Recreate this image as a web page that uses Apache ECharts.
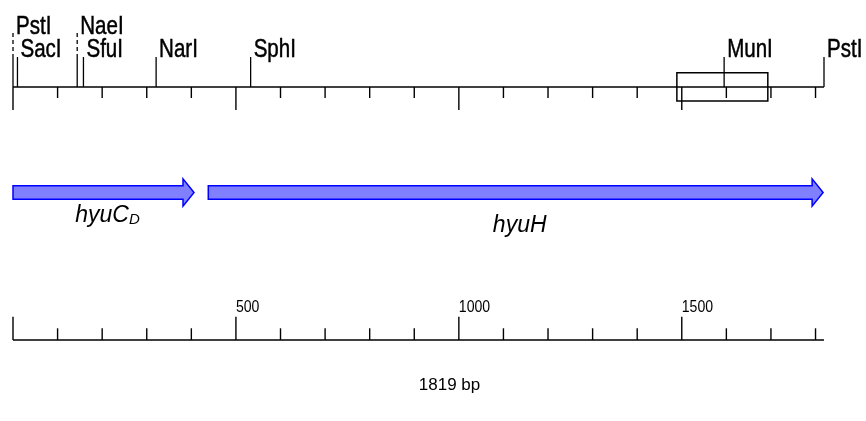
<!DOCTYPE html>
<html>
<head>
<meta charset="utf-8">
<script src="https://cdn.jsdelivr.net/npm/echarts@6/dist/echarts.min.js"></script>
<style>
  html, body { margin: 0; padding: 0; background: #fff; }
  #map { width: 866px; height: 421px; }
</style>
</head>
<body>
<div id="map"></div>
<script>
// Insert map: restriction sites over a bp ruler, the two coding genes, and a scale bar.

const sequenceLength = 1819;
const totalLabel = '1819 bp';

// Ruler ticks (bp)
const tickPositions = [0, 100, 200, 300, 400, 500, 600, 700, 800, 900, 1000,
                       1100, 1200, 1300, 1400, 1500, 1600, 1700, 1800];
const majorTickPositions = [0, 500, 1000, 1500];
const scaleLabelPositions = [500, 1000, 1500];
const scaleLabels = ['500', '1000', '1500'];

// Restriction sites
const siteNames = ['PstI', 'SacI', 'NaeI', 'SfuI', 'NarI', 'SphI', 'MunI', 'PstI'];
const sitePositions = [0, 10, 144, 158, 321, 533, 1595, 1819];
const siteRows = [0, 1, 0, 1, 1, 1, 1, 1];

// Genes
const geneNames = ['hyuC', 'hyuH'];
const geneSubscripts = ['D', ''];
const geneStarts = [0, 438];
const geneEnds = [406, 1817];

// Boxed region on the ruler (bp)
const boxedRegion = [1489, 1693];

// ---- drawing layout (pixel rows) ----
const L = {
  topRulerY: 87, minorTick: 11, majorTick: 23,
  siteLabelBaseline: [36, 59], siteLineTop: [33, 57], siteLabelGap: 3,
  labelFont: 26, labelScaleX: 0.79,
  boxTop: 72.7, boxBottom: 101,
  geneY: 192.5, bodyHalf: 6.8, headHalf: 13.7, headLength: 11,
  geneLabelBaseline: [223.3, 233.3], geneFont: 23, subFont: 15, subDrop: 2, geneLabelShift: 4,
  bottomRulerY: 340, bottomMinor: 11.7, bottomMajor: 23.3,
  scaleLabelBaseline: 313, scaleFont: 16, scaleScaleX: 0.88,
  totalLabelBaseline: 391, totalFont: 17, totalShift: 31
};
const FONT = '"Liberation Sans", Arial, Helvetica, sans-serif';
const midOffset = fs => fs * 0.35;  // baseline -> text middle

const measureCtx = document.createElement('canvas').getContext('2d');
function textWidth(t, font) { measureCtx.font = font; return measureCtx.measureText(t).width; }

function seg(p0, p1, extra) {
  return Object.assign({
    type: 'line',
    shape: { x1: p0[0], y1: p0[1], x2: p1[0], y2: p1[1] },
    style: { stroke: '#000', lineWidth: 1.4 }
  }, extra || {});
}

const chart = echarts.init(document.getElementById('map'), null, { renderer: 'canvas' });

const option = {
  animation: false,
  backgroundColor: '#fff',
  grid: { left: 13, right: 42, top: 0, bottom: 0 },
  xAxis: { type: 'value', min: 0, max: sequenceLength, show: false },
  yAxis: { type: 'value', min: 0, max: 421, inverse: true, show: false },
  series: [
    // top ruler baseline
    {
      type: 'custom', name: 'mapRuler',
      data: [[0, sequenceLength]],
      renderItem(params, api) {
        const a = api.coord([api.value(0), L.topRulerY]);
        const b = api.coord([api.value(1), L.topRulerY]);
        return seg(a, b, { style: { stroke: '#000', lineWidth: 1.6 } });
      }
    },
    // top ruler ticks (downward)
    {
      type: 'custom', name: 'mapTicks',
      data: tickPositions.map(p => [p, 0]),
      renderItem(params, api) {
        const bp = api.value(0);
        const len = majorTickPositions.includes(bp) ? L.majorTick : L.minorTick;
        return seg(api.coord([bp, L.topRulerY]), api.coord([bp, L.topRulerY + len]));
      }
    },
    // boxed region
    {
      type: 'custom', name: 'region',
      data: [[boxedRegion[0], boxedRegion[1]]],
      renderItem(params, api) {
        const a = api.coord([api.value(0), L.boxTop]);
        const b = api.coord([api.value(1), L.boxBottom]);
        return {
          type: 'rect',
          shape: { x: a[0], y: a[1], width: b[0] - a[0], height: b[1] - a[1] },
          style: { fill: null, stroke: '#000', lineWidth: 1.5 }
        };
      }
    },
    // restriction sites
    {
      type: 'custom', name: 'sites',
      data: sitePositions.map((p, i) => [p, i]),
      renderItem(params, api) {
        const i = params.dataIndex;
        const bp = api.value(0);
        const row = siteRows[i];
        const top = L.siteLineTop[row];
        const children = [];
        if (row === 0) {
          children.push(seg(api.coord([bp, top]), api.coord([bp, L.siteLineTop[1]]),
            { style: { stroke: '#000', lineWidth: 1.3, lineDash: [4, 3] } }));
        }
        children.push(seg(api.coord([bp, L.siteLineTop[1]]), api.coord([bp, L.topRulerY]),
          { style: { stroke: '#000', lineWidth: 1.3 } }));
        const anchor = api.coord([bp, L.siteLabelBaseline[row] - midOffset(L.labelFont)]);
        children.push({
          type: 'text',
          x: anchor[0] + L.siteLabelGap, y: anchor[1],
          scaleX: L.labelScaleX,
          style: {
            x: 0, y: 0, text: siteNames[i],
            fontFamily: FONT, fontSize: L.labelFont, fill: '#000',
            stroke: '#000', lineWidth: 0.5,
            align: 'left', verticalAlign: 'middle'
          }
        });
        return { type: 'group', children };
      }
    },
    // gene arrows
    {
      type: 'custom', name: 'genes',
      data: geneStarts.map((s, i) => [s, geneEnds[i]]),
      renderItem(params, api) {
        const i = params.dataIndex;
        const a = api.coord([api.value(0), L.geneY]);
        const b = api.coord([api.value(1), L.geneY]);
        const y = a[1], x0 = a[0], x1 = b[0], xh = x1 - L.headLength;
        const arrow = {
          type: 'polygon',
          shape: { points: [
            [x0, y - L.bodyHalf], [xh, y - L.bodyHalf], [xh, y - L.headHalf], [x1, y],
            [xh, y + L.headHalf], [xh, y + L.bodyHalf], [x0, y + L.bodyHalf]
          ] },
          style: { fill: '#8080ff', stroke: '#0000ff', lineWidth: 1.5, lineJoin: 'miter' }
        };
        const mainFont = 'italic ' + L.geneFont + 'px ' + FONT;
        const subFont = 'italic ' + L.subFont + 'px ' + FONT;
        const w1 = textWidth(geneNames[i], mainFont);
        const w2 = geneSubscripts[i] ? textWidth(geneSubscripts[i], subFont) : 0;
        const cx = (x0 + x1) / 2 + L.geneLabelShift;
        const left = cx - (w1 + w2) / 2;
        const base = api.coord([0, L.geneLabelBaseline[i]])[1];
        const children = [arrow, {
          type: 'text', x: left, y: base - midOffset(L.geneFont),
          style: { x: 0, y: 0, text: geneNames[i], fontFamily: FONT, fontStyle: 'italic',
                   fontSize: L.geneFont, fill: '#000', align: 'left', verticalAlign: 'middle' }
        }];
        if (geneSubscripts[i]) {
          children.push({
            type: 'text', x: left + w1, y: base + L.subDrop - midOffset(L.subFont),
            style: { x: 0, y: 0, text: geneSubscripts[i], fontFamily: FONT, fontStyle: 'italic',
                     fontSize: L.subFont, fill: '#000', align: 'left', verticalAlign: 'middle' }
          });
        }
        return { type: 'group', children };
      }
    },
    // scale bar baseline
    {
      type: 'custom', name: 'scaleBar',
      data: [[0, sequenceLength]],
      renderItem(params, api) {
        const a = api.coord([api.value(0), L.bottomRulerY]);
        const b = api.coord([api.value(1), L.bottomRulerY]);
        return seg(a, b, { style: { stroke: '#000', lineWidth: 1.6 } });
      }
    },
    // scale bar ticks (upward)
    {
      type: 'custom', name: 'scaleTicks',
      data: tickPositions.map(p => [p, 0]),
      renderItem(params, api) {
        const bp = api.value(0);
        const len = majorTickPositions.includes(bp) ? L.bottomMajor : L.bottomMinor;
        return seg(api.coord([bp, L.bottomRulerY]), api.coord([bp, L.bottomRulerY - len]));
      }
    },
    // scale bar labels
    {
      type: 'custom', name: 'scaleLabels',
      data: scaleLabelPositions.map((p, i) => [p, i]),
      renderItem(params, api) {
        const p = api.coord([api.value(0), L.scaleLabelBaseline - midOffset(L.scaleFont)]);
        return {
          type: 'text', x: p[0], y: p[1], scaleX: L.scaleScaleX,
          style: { x: 0, y: 0, text: scaleLabels[params.dataIndex], fontFamily: FONT,
                   fontSize: L.scaleFont, fill: '#000', align: 'left', verticalAlign: 'middle' }
        };
      }
    },
    // total length caption
    {
      type: 'custom', name: 'total',
      data: [[sequenceLength / 2, 0]],
      renderItem(params, api) {
        const p = api.coord([api.value(0), L.totalLabelBaseline - midOffset(L.totalFont)]);
        return {
          type: 'text', x: p[0] + L.totalShift, y: p[1],
          style: { x: 0, y: 0, text: totalLabel, fontFamily: FONT, fontSize: L.totalFont,
                   fill: '#000', align: 'center', verticalAlign: 'middle' }
        };
      }
    }
  ]
};

chart.setOption(option);
</script>
</body>
</html>
